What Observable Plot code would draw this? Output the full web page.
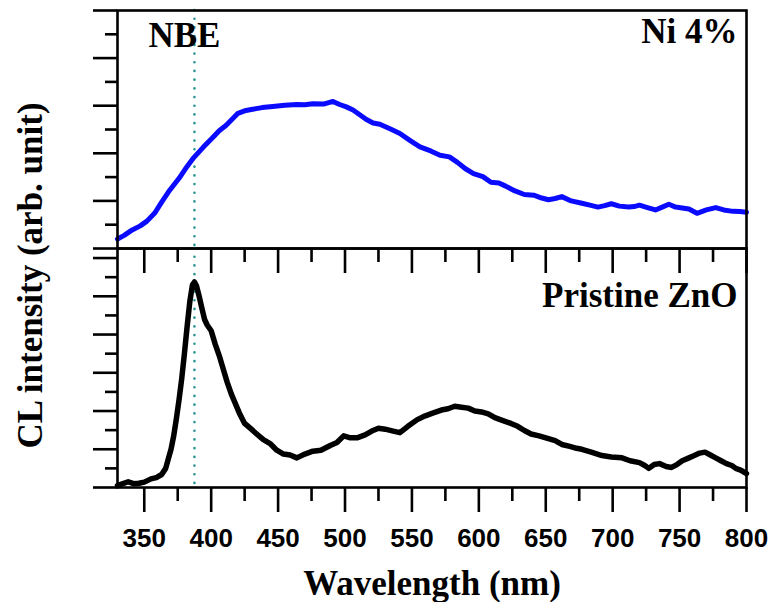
<!DOCTYPE html>
<html><head><meta charset="utf-8">
<script src="https://cdn.jsdelivr.net/npm/d3@7"></script>
<script src="https://cdn.jsdelivr.net/npm/@observablehq/plot@0.6"></script>
<style>
html,body{margin:0;padding:0;background:#fff;}
#chart{position:relative;width:772px;height:602px;overflow:hidden;background:#fff;}
#chart svg{position:absolute;left:0;top:0;overflow:visible;background:transparent;}
</style></head><body><div id="chart"></div>
<script>
// ---- data ----
const xDomain = [330, 800];
const xMajorTicks = [350, 400, 450, 500, 550, 600, 650, 700, 750, 800];
const xMinorTicks = [375, 425, 475, 525, 575, 625, 675, 725, 775];
const topMajorTicks = [0, 2, 4, 6, 8, 10];
const topMinorTicks = [1, 3, 5, 7, 9];
const botMajorTicks = [0, 2, 4, 6, 8, 10, 12];
const botMinorTicks = [1, 3, 5, 7, 9, 11];
const nbeWavelength = 387.5;

const niNm = [330,335,341,347,352,358,363,369,376,382,387,394,401,406,411,416,420,426,431,438,446,455,464,470,476,484,491,496,501,506,511,516,521,526,534,541,549,556,564,571,578,584,590,596,603,609,615,620,627,634,641,647,652,657,662,669,677,683,689,694,699,705,712,716,720,726,732,737,742,747,752,757,763,770,777,783,790,795,800];
const niVal = [0.40,0.55,0.78,0.95,1.15,1.50,1.95,2.45,2.95,3.45,3.82,4.25,4.65,4.95,5.17,5.45,5.68,5.80,5.85,5.92,5.97,6.02,6.05,6.04,6.08,6.07,6.18,6.05,5.95,5.82,5.62,5.42,5.27,5.22,5.02,4.83,4.52,4.27,4.10,3.92,3.85,3.62,3.35,3.15,3.02,2.78,2.75,2.62,2.42,2.27,2.24,2.12,2.05,2.10,2.18,2.00,1.90,1.82,1.74,1.80,1.88,1.78,1.74,1.76,1.82,1.72,1.62,1.74,1.86,1.74,1.70,1.66,1.48,1.62,1.72,1.62,1.56,1.55,1.52];

const znoNm = [330,333,338,342,346,350,355,359,363,366,368,370,372,374,376,378,380,382,384,386,387.5,389,391,393,395,397,400,403,406,409,412,415,418,421,425,430,434,439,444,449,454,459,464,470,476,482,489,494,499,504,509,515,520,525,530,536,541,547,554,560,566,572,577,582,587,592,597,602,607,612,618,624,629,634,639,645,652,657,662,668,673,677,684,692,699,707,713,720,724,727,731,735,740,744,748,752,757,761,765,769,773,777,781,785,789,792,796,800];
const znoVal = [0.10,0.18,0.30,0.20,0.22,0.28,0.45,0.52,0.68,1.0,1.5,2.0,2.7,3.6,4.6,5.7,7.0,8.4,9.7,10.6,10.75,10.55,10.0,9.4,8.8,8.5,8.2,7.5,6.9,6.2,5.5,4.9,4.4,3.9,3.35,3.05,2.8,2.5,2.3,1.95,1.75,1.7,1.55,1.75,1.9,1.95,2.2,2.35,2.7,2.6,2.6,2.75,2.95,3.1,3.05,2.95,2.87,3.2,3.55,3.75,3.9,4.05,4.12,4.25,4.2,4.15,4.0,3.95,3.85,3.65,3.5,3.35,3.2,2.98,2.8,2.7,2.55,2.45,2.25,2.15,2.05,2.0,1.85,1.67,1.6,1.55,1.4,1.3,1.15,1.0,1.2,1.25,1.1,1.05,1.2,1.4,1.55,1.67,1.8,1.85,1.7,1.55,1.4,1.25,1.15,1.0,0.9,0.73];

const niData = niNm.map((nm, i) => ({nm, v: niVal[i]}));
const znoData = znoNm.map((nm, i) => ({nm, v: znoVal[i]}));

// ---- styles ----
const W = 772, H = 602;
const mL = 117, mR = 26;
const serif = "'Liberation Serif', 'Times New Roman', serif";
const sans = "'Liberation Sans', Arial, sans-serif";
const AX = 2.6;
const dotColor = "#2a9494";
const noText = () => "";

const topPlot = Plot.plot({
  width: W, height: 248,
  marginTop: 10, marginBottom: 0, marginLeft: mL, marginRight: mR,
  x: {domain: xDomain, axis: null},
  y: {domain: [0, 10]},
  style: {background: "transparent", overflow: "visible"},
  marks: [
    Plot.ruleX([nbeWavelength], {stroke: dotColor, strokeWidth: 2.6, strokeDasharray: "0.1,8.6", strokeLinecap: "round"}),
    Plot.line(niData, {x: "nm", y: "v", stroke: "#0a0aff", strokeWidth: 5, strokeLinejoin: "round"}),
    Plot.frame({stroke: "#000", strokeWidth: AX}),
    Plot.axisY({ticks: topMajorTicks, tickSize: 24, tickFormat: noText, label: null, strokeWidth: AX}),
    Plot.axisY({ticks: topMinorTicks, tickSize: 12, tickFormat: noText, label: null, strokeWidth: AX}),
    Plot.text(["NBE"], {frameAnchor: "top-left", dx: 31, dy: 12, fontFamily: serif, fontWeight: "bold", fontSize: 35, fill: "#000"}),
    Plot.text(["Ni 4%"], {frameAnchor: "top-right", dx: -9, dy: 8, fontFamily: serif, fontWeight: "bold", fontSize: 35, fill: "#000"})
  ]
});

const botPlot = Plot.plot({
  width: W, height: H,
  marginTop: 248, marginBottom: 115, marginLeft: mL, marginRight: mR,
  x: {domain: xDomain},
  y: {domain: [0, 12.5]},
  style: {background: "transparent", overflow: "visible"},
  marks: [
    Plot.ruleX([nbeWavelength], {stroke: dotColor, strokeWidth: 2.6, strokeDasharray: "0.1,8.6", strokeLinecap: "round"}),
    Plot.line(znoData, {x: "nm", y: "v", stroke: "#000", strokeWidth: 5.5, strokeLinejoin: "round"}),
    Plot.frame({stroke: "#000", strokeWidth: AX}),
    Plot.axisY({ticks: botMajorTicks, tickSize: 24, tickFormat: noText, label: null, strokeWidth: AX}),
    Plot.axisY({ticks: botMinorTicks, tickSize: 12, tickFormat: noText, label: null, strokeWidth: AX}),
    Plot.axisX({anchor: "top", ticks: xMajorTicks, tickSize: -24, tickFormat: noText, label: null, strokeWidth: AX}),
    Plot.axisX({anchor: "top", ticks: xMinorTicks, tickSize: -13, tickFormat: noText, label: null, strokeWidth: AX}),
    Plot.axisX({anchor: "bottom", ticks: xMajorTicks, tickSize: 25, tickPadding: 16, label: null, strokeWidth: AX,
      tickFormat: d => String(d), fontFamily: sans, fontWeight: "bold", fontSize: 26, fill: "#000"}),
    Plot.axisX({anchor: "bottom", ticks: xMinorTicks, tickSize: 14, tickFormat: noText, label: null, strokeWidth: AX}),
    Plot.text(["Pristine ZnO"], {frameAnchor: "top-right", dx: -9, dy: 34, fontFamily: serif, fontWeight: "bold", fontSize: 35, fill: "#000"}),
    Plot.text(["Wavelength (nm)"], {frameAnchor: "bottom", lineAnchor: "top", dy: 83, fontFamily: serif, fontWeight: "bold", fontSize: 35, fill: "#000"}),
    Plot.text(["CL intensity (arb. unit)"], {frameAnchor: "top-left", textAnchor: "middle", lineAnchor: "middle", rotate: -90, dx: -87, dy: 27, fontFamily: serif, fontWeight: "bold", fontSize: 35, fill: "#000"})
  ]
});

const chart = document.getElementById("chart");
chart.appendChild(topPlot);
chart.appendChild(botPlot);
</script></body></html>
